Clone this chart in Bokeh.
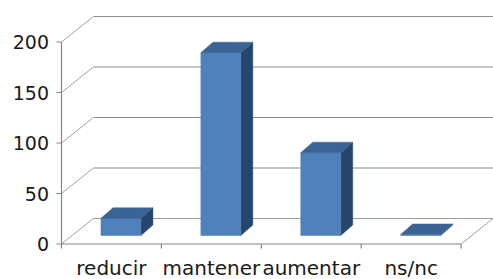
from bokeh.plotting import figure
from bokeh.embed import file_html
from bokeh.resources import INLINE
from bokeh.core.properties import value

categories = ["reducir", "mantener", "aumentar", "ns/nc"]
counts = [17, 181, 82, 1]
y_ticks = [0, 50, 100, 150, 200]
y_tick_labels = ["0", "50", "100", "150", "200"]

# 3D geometry (in data units: x = category units, y = value units)
DU, DV = 0.32, 25.25        # depth of the floor / side wall
BX, BY = 0.095, 8.4         # bar plane offset from the front plane
BDU, BDV = 0.12, 10.4       # bar depth
BW = 0.4                    # bar width
N = len(categories)
YMAX = max(y_ticks)

p = figure(width=493, height=279, x_range=(-0.6106, 4.3243), y_range=(-35.15, 241.1),
           x_axis_type=None, y_axis_type=None, toolbar_location=None,
           output_backend="svg", min_border=0)
p.grid.visible = False
p.outline_line_color = None
p.background_fill_color = "white"

grid_col = "#8c8c8c"
# back wall gridlines
for t in y_ticks:
    p.line([DU, N + DU], [t + DV, t + DV], line_color=grid_col if t else "#9a9a9a", line_width=1.2)
    # side wall diagonals
    p.line([0, DU], [t, t + DV], line_color="#a0a0a0", line_width=1)
# floor right edge
p.line([N, N + DU], [0, DV], line_color="#a0a0a0", line_width=1)
# front axes
p.line([0, 0], [0, YMAX], line_color="#868686", line_width=1.2)
p.line([0, N], [0, 0], line_color="#868686", line_width=1.2)
# y ticks
p.segment(x0=[-0.05] * len(y_ticks), y0=y_ticks, x1=[0] * len(y_ticks), y1=y_ticks,
          line_color="#868686", line_width=1.2)
# x ticks
p.segment(x0=list(range(N + 1)), y0=[0] * (N + 1), x1=list(range(N + 1)), y1=[-4.5] * (N + 1),
          line_color="#868686", line_width=1.2)

# bars
front_xs, front_ys, top_xs, top_ys, side_xs, side_ys = [], [], [], [], [], []
for i, v in enumerate(counts):
    L = i + 0.5 - BW / 2 + BX
    R = L + BW
    B = BY
    T = BY + v
    front_xs.append([L, R, R, L]); front_ys.append([B, B, T, T])
    top_xs.append([L, R, R + BDU, L + BDU]); top_ys.append([T, T, T + BDV, T + BDV])
    side_xs.append([R, R + BDU, R + BDU, R]); side_ys.append([B, B + BDV, T + BDV, T])
p.patches(side_xs, side_ys, fill_color="#27466B", line_color="#27466B", line_width=0.5)
p.patches(front_xs, front_ys, fill_color="#4F81BD", line_color="#4A7AB3", line_width=0.5)
p.patches(top_xs, top_ys, fill_color="#3B6394", line_color="#3B6394", line_width=0.5)

# labels
p.text(x=[-0.125] * len(y_ticks), y=y_ticks, text=y_tick_labels, text_align="right",
       text_baseline="middle", text_font=value("DejaVu Sans"), text_font_size="19px",
       text_color="#1a1a1a")
p.text(x=[i + 0.5 for i in range(N)], y=[-23.5] * N, text=categories, text_align="center",
       text_baseline="middle", text_font=value("DejaVu Sans"), text_font_size="20px",
       text_color="#1a1a1a")

open("out.html", "w").write(file_html(p, INLINE))
